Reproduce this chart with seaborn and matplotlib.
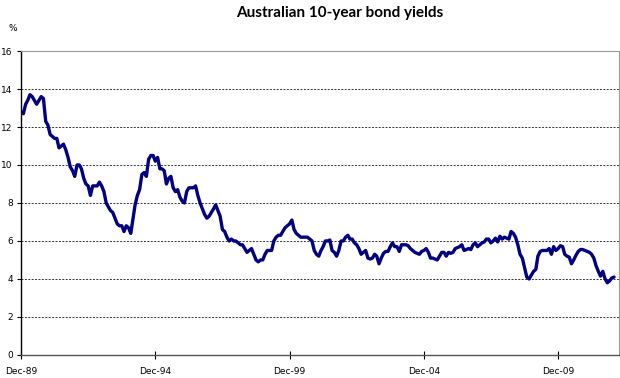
import numpy as np
import pandas as pd
import matplotlib
matplotlib.use("Agg")
import matplotlib.pyplot as plt
import matplotlib.dates as mdates
import seaborn as sns

sns.set_style("white")
plt.rcParams["font.family"] = ["Lato", "DejaVu Sans"]
plt.rcParams["text.color"] = "black"

# monthly yields (%), Dec-1989 to Jan-2012
y1990 = [12.8, 12.7, 13.2, 13.4, 13.7, 13.6, 13.4, 13.2, 13.4, 13.6, 13.5, 12.3, 12.1]
y1991 = [11.6, 11.5, 11.4, 11.4, 10.9, 11.0, 11.1, 10.8, 10.4, 9.9, 9.7, 9.4]
y1992 = [10.0, 10.0, 9.8, 9.3, 9.0, 8.9, 8.4, 8.9, 8.9, 8.9, 9.1, 8.9]
y1993 = [8.6, 8.0, 7.8, 7.6, 7.5, 7.2, 6.9, 6.8, 6.8, 6.5, 6.8, 6.7]
y1994 = [6.4, 7.2, 7.9, 8.4, 8.7, 9.5, 9.6, 9.4, 10.3, 10.5, 10.5, 10.2]
y1995 = [10.4, 9.8, 9.8, 9.7, 9.0, 9.3, 9.4, 8.8, 8.6, 8.7, 8.3, 8.1]
y1996 = [8.0, 8.6, 8.8, 8.8, 8.8, 8.9, 8.4, 8.0, 7.7, 7.4, 7.2, 7.3]
y1997 = [7.5, 7.7, 7.9, 7.6, 7.3, 6.6, 6.5, 6.2, 6.0, 6.1, 6.0, 6.0]
y1998 = [5.9, 5.8, 5.8, 5.6, 5.4, 5.5, 5.6, 5.3, 5.0, 4.9, 5.0, 5.0]
y1999 = [5.3, 5.5, 5.5, 5.5, 6.0, 6.2, 6.3, 6.3, 6.5, 6.7, 6.8, 6.9]
y2000 = [7.1, 6.6, 6.4, 6.3, 6.2, 6.2, 6.2, 6.2, 6.1, 6.0, 5.5, 5.3]
y2001 = [5.2, 5.5, 5.7, 6.0, 6.0, 6.05, 5.5, 5.4, 5.2, 5.5, 6.0, 6.0]
y2002 = [6.2, 6.3, 6.1, 6.1, 5.9, 5.8, 5.6, 5.3, 5.4, 5.5, 5.1, 5.05]
y2003 = [5.1, 5.3, 5.2, 4.8, 5.1, 5.35, 5.45, 5.45, 5.7, 5.9, 5.7, 5.7]
y2004 = [5.45, 5.8, 5.8, 5.8, 5.75, 5.6, 5.5, 5.4, 5.35, 5.3, 5.45, 5.5]
y2005 = [5.6, 5.4, 5.1, 5.1, 5.05, 5.0, 5.2, 5.4, 5.4, 5.2, 5.4, 5.35]
y2006 = [5.4, 5.6, 5.65, 5.7, 5.8, 5.5, 5.55, 5.6, 5.55, 5.8, 5.9, 5.7]
y2007 = [5.8, 5.9, 5.95, 6.1, 6.1, 5.9, 6.0, 6.15, 5.95, 6.25, 6.1, 6.2]
y2008 = [6.15, 6.1, 6.5, 6.4, 6.2, 5.8, 5.3, 5.1, 4.6, 4.1, 4.0, 4.2]
y2009 = [4.4, 4.5, 5.2, 5.45, 5.5, 5.5, 5.5, 5.6, 5.3, 5.7, 5.5, 5.6]
y2010 = [5.75, 5.7, 5.3, 5.2, 5.15, 4.8, 5.0, 5.25, 5.45, 5.55, 5.55, 5.5]
y2011 = [5.45, 5.4, 5.3, 5.1, 4.7, 4.4, 4.15, 4.4, 4.0, 3.8, 3.9, 4.05]
y2012 = [4.1]

yields = (y1990 + y1991 + y1992 + y1993 + y1994 + y1995 + y1996 + y1997 + y1998
          + y1999 + y2000 + y2001 + y2002 + y2003 + y2004 + y2005 + y2006 + y2007
          + y2008 + y2009 + y2010 + y2011 + y2012)
months = pd.date_range("1989-12-01", periods=len(yields), freq="MS")
df = pd.DataFrame({"month": months, "yield": yields})

tick_dates = pd.to_datetime(["1989-12-01", "1994-12-01", "1999-12-01",
                             "2004-12-01", "2009-12-01"])

fig = plt.figure(figsize=(6.2, 3.78), dpi=100)
ax = fig.add_axes([0.034, 0.061, 0.964, 0.804])

sns.lineplot(data=df, x="month", y="yield", color="#000080", linewidth=2.4, ax=ax)

ax.set_ylim(0, 16)
ax.set_yticks(np.arange(0, 17, 2))
ax.set_xlim(months[0], pd.Timestamp("2012-03-05"))
ax.set_xticks(tick_dates)
ax.xaxis.set_major_formatter(mdates.DateFormatter("%b-%y"))

# dotted gridlines (the 16 line is the plot border)
for v in range(2, 16, 2):
    ax.axhline(v, color="#333333", linestyle=(0, (2, 1.5)), linewidth=0.7, zorder=0)

ax.set_xlabel("")
ax.set_ylabel("")
ax.tick_params(axis="both", labelsize=6.5, colors="black", length=3, width=0.8)
ax.tick_params(axis="x", direction="inout", length=6, pad=6)
ax.tick_params(axis="y", direction="out", length=3, pad=3)
for lbl in ax.get_xticklabels() + ax.get_yticklabels():
    lbl.set_family(["DejaVu Sans"])
ax.xaxis.set_ticks_position("bottom")
ax.yaxis.set_ticks_position("left")

ax.spines["left"].set_color("black")
ax.spines["left"].set_linewidth(1.0)
ax.spines["bottom"].set_color("#555555")
ax.spines["bottom"].set_linewidth(1.0)
ax.spines["top"].set_color("#999999")
ax.spines["top"].set_linewidth(0.8)
ax.spines["right"].set_color("#999999")
ax.spines["right"].set_linewidth(0.8)

fig.text(0.548, 0.965, "Australian 10-year bond yields", ha="center", va="center",
         fontsize=11, fontweight="bold", color="black")
fig.text(0.013, 0.925, "%", ha="left", va="center", fontsize=6.5,
         family=["DejaVu Sans"], color="black")

fig.savefig("out.png", dpi=100)
